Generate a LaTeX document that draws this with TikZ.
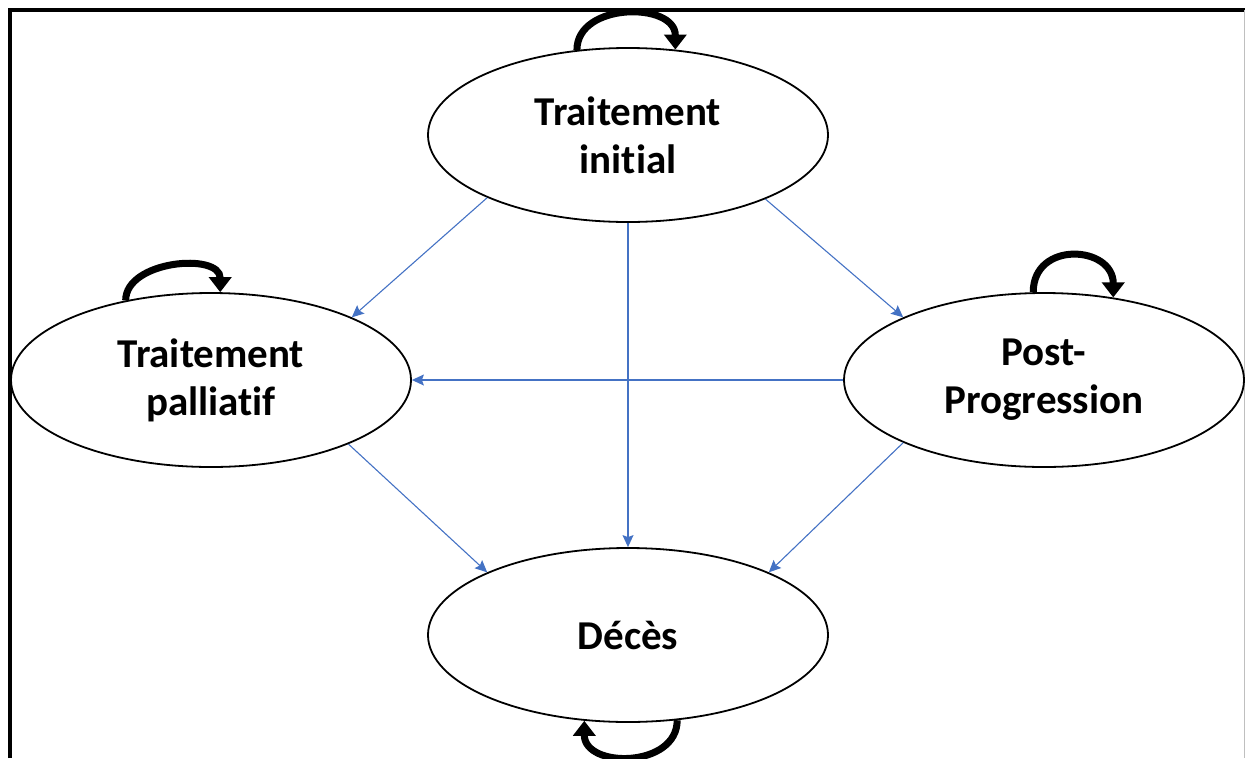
\documentclass[tikz,border=0pt]{standalone}
\usepackage{fontspec}
\setmainfont{Carlito}[RawFeature=-liga]
\usepackage{tikz}
\usetikzlibrary{shapes.geometric}
\usetikzlibrary{arrows.meta}

\definecolor{trblue}{RGB}{68,114,196}

\begin{document}
\begin{tikzpicture}[x=1pt,y=1pt,
  state/.style={draw,ellipse,line width=1.8pt,minimum width=400pt,
    minimum height=174pt,inner sep=0pt,align=center,
    font=\bfseries\fontsize{41}{48}\selectfont},
  trans/.style={draw=trblue,line width=1.1pt,
    -{Stealth[length=12pt,width=11pt,inset=2pt]}},
  stay/.style={line width=7pt,-{Triangle[length=15pt,width=22pt]}}]
  \useasboundingbox (0,0) rectangle (1245,-758);

  %frame
  \draw[line width=4pt]
    (10,-758)
    --
    (10,-10)
    --
    (1245,-10);
  \draw[gray!50,line width=1pt]
    (1244,-10)
    --
    (1244,-758);

  %states
  \node[state] (init) at (628,-135) {Traitement\\initial};
  \node[state] (pall) at (211,-380) {Traitement\\palliatif};
  \node[state] (post) at (1044,-380) {Post-\\Progression};
  \node[state] (dec) at (628,-635) {Décès};

  %transitions
  \draw[trans] (init.204) -- (pall.24);
  \draw[trans] (init.south) -- (dec.north);
  \draw[trans] (init.335) -- (post.156);
  \draw[trans] (post.west) -- (pall.east);
  \draw[trans] (pall.335) -- (dec.156);
  \draw[trans] (post.204) -- (dec.24);

  %staying
  \draw[stay]
    (init.121)
    .. controls +(0,48) and +(0,48) ..
    (init.61);
  \draw[stay]
    (pall.137)
    .. controls +(0,40) and +(0,40) ..
    (pall.84);
  \draw[stay]
    (post.97)
    .. controls +(0,52) and +(0,52) ..
    (post.50);
  \draw[stay]
    (dec.300)
    .. controls +(0,-48) and +(0,-48) ..
    (dec.243);
\end{tikzpicture}
\end{document}
